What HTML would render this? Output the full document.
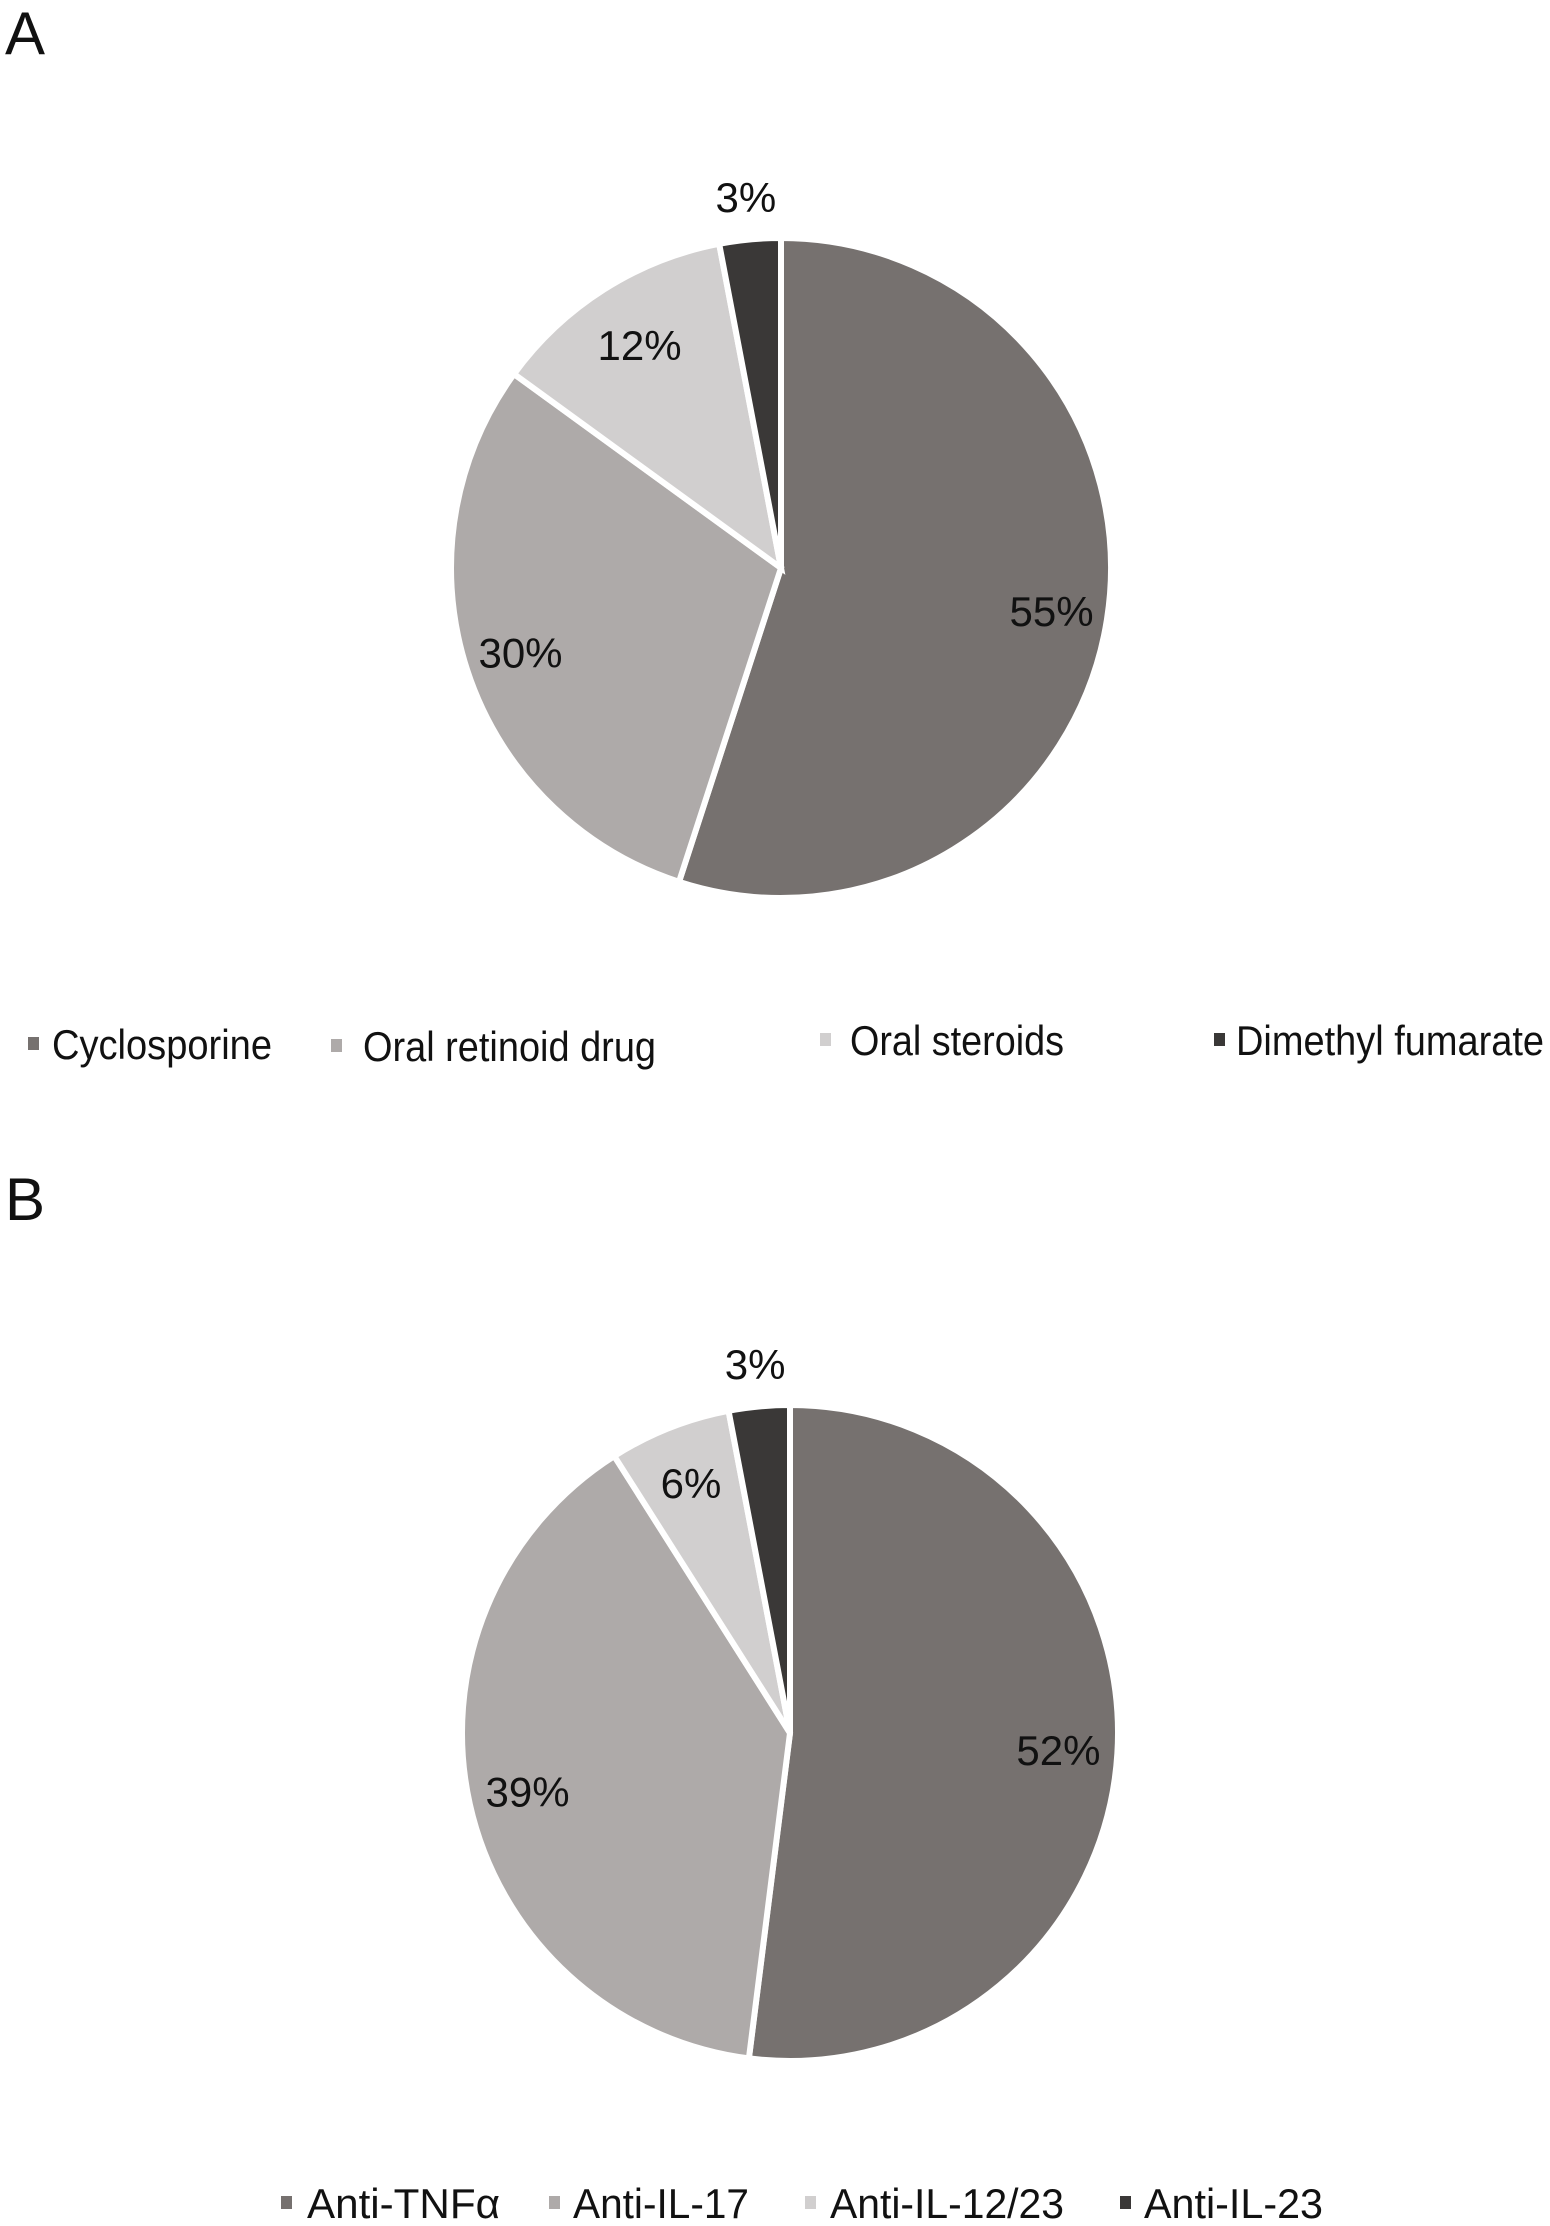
<!DOCTYPE html>
<html><head><meta charset="utf-8"><style>
html,body{margin:0;padding:0;background:#fff;}
svg{display:block;font-family:"Liberation Sans",Arial,sans-serif;}
</style></head><body>
<svg id="chart" width="1550" height="2226" viewBox="0 0 1550 2226">
<text x="5" y="54" font-size="60" fill="#111">A</text>
<text x="5" y="1220" font-size="60" fill="#111">B</text>
<g id="pieA"></g>
<g id="pieB"></g>
<g id="legA"></g>
<g id="legB"></g>
</svg>
<script>
const catsA = ["Cyclosporine","Oral retinoid drug","Oral steroids","Dimethyl fumarate"];
const valsA = [55,30,12,3];
const labelsA = ["55%","30%","12%","3%"];
const catsB = ["Anti-TNFα","Anti-IL-17","Anti-IL-12/23","Anti-IL-23"];
const valsB = [52,39,6,3];
const labelsB = ["52%","39%","6%","3%"];
const colors = ["#76716f","#aeaaa9","#d1cfcf","#3a3837"];
const NS = "http://www.w3.org/2000/svg";

function drawPie(gid, vals, labels, cx, cy, r, labelPos, name){
  const g = document.getElementById(gid);
  const tot = vals.reduce((a,b)=>a+b,0);
  let a0 = 0;
  vals.forEach((v,i)=>{
    const a1 = a0 + v/tot*2*Math.PI;
    const x0 = cx + r*Math.sin(a0), y0 = cy - r*Math.cos(a0);
    const x1 = cx + r*Math.sin(a1), y1 = cy - r*Math.cos(a1);
    const large = (a1-a0) > Math.PI ? 1 : 0;
    const p = document.createElementNS(NS,"path");
    p.setAttribute("d",`M${cx},${cy} L${x0},${y0} A${r},${r} 0 ${large} 1 ${x1},${y1} Z`);
    p.setAttribute("fill",colors[i]);
    p.setAttribute("stroke","#fff");
    p.setAttribute("stroke-width","6");
    
    
    g.appendChild(p);
    const mid = (a0+a1)/2;
    const lr = r*labelPos[i];
    const t = document.createElementNS(NS,"text");
    t.setAttribute("x", cx + lr*Math.sin(mid));
    t.setAttribute("y", cy - lr*Math.cos(mid) + 15);
    t.setAttribute("text-anchor","middle");
    t.setAttribute("font-size","42");
    t.setAttribute("fill","#111");
    t.textContent = labels[i];
    
    
    g.appendChild(t);
    a0 = a1;
  });
}
drawPie("pieA", valsA, labelsA, 781, 568, 330, [0.83,0.83,0.8,1.13], "pie-a");
drawPie("pieB", valsB, labelsB, 790, 1733, 328, [0.82,0.82,0.82,1.13], "pie-b");

function drawLegend(gid, cats, items, name){
  const g = document.getElementById(gid);
  items.forEach((it,i)=>{
    const m = document.createElementNS(NS,"rect");
    m.setAttribute("x",it[0]); m.setAttribute("y",it[3]-7);
    m.setAttribute("width",11); m.setAttribute("height",13);
    m.setAttribute("fill",colors[i]);
    
    
    g.appendChild(m);
    const t = document.createElementNS(NS,"text");
    t.setAttribute("x",it[1]); t.setAttribute("y",it[3]+15);
    t.setAttribute("font-size","42");
    t.setAttribute("textLength",it[2]-it[1]);
    t.setAttribute("lengthAdjust","spacingAndGlyphs");
    t.setAttribute("fill","#111");
    t.textContent = cats[i];
    
    
    g.appendChild(t);
  });
}
drawLegend("legA", catsA, [[28,52,272,1044],[331,363,656,1046],[820,850,1064,1040],[1214,1236,1544,1040]], "legend-a");
drawLegend("legB", catsB, [[281,307,500,2203],[549,573,749,2203],[805,830,1064,2203],[1120,1144,1323,2203]], "legend-b");
</script>
</body></html>
